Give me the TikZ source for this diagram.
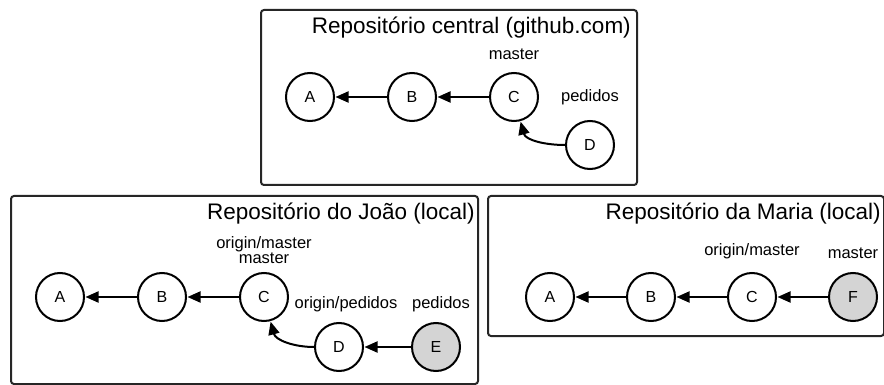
\documentclass[tikz,border=0pt]{standalone}
\usepackage{fontspec}
\setmainfont{Liberation Sans}
\usetikzlibrary{arrows.meta, positioning, calc}

\begin{document}
\begin{tikzpicture}[
    x=1pt, y=1pt,
    node distance=52pt,
    % Commit Style
    commit/.style={draw=black, circle, line width=2pt, minimum size=48pt, inner sep=0pt, font=\fontsize{16}{18}\selectfont},
    % Newest Local Commit Style
    newcommit/.style={commit, fill=black!17},
    % Repository Frame Style
    repo/.style={draw=black!85, rectangle, rounded corners=3pt, line width=2pt, anchor=north west, inner sep=0pt},
    % Repository Title Style
    repotitle/.style={anchor=north east, font=\fontsize{22.5}{25}\selectfont, inner sep=0pt},
    % Branch Name Style
    branchname/.style={font=\fontsize{16.5}{15}\selectfont, inner sep=0pt, align=center},
    % Parent Link Style
    parent/.style={-{Triangle[length=13pt, width=11pt]}, line width=2pt, shorten >=0.5pt}
]
\useasboundingbox (0,0) rectangle (884,-385);

% ================= Repositories =================
\node[repo, minimum width=376pt, minimum height=175pt] (central) at (260,-9) {};
\node[repo, minimum width=467pt, minimum height=188pt] (joao) at (10,-195) {};
\node[repo, minimum width=396pt, minimum height=140pt] (maria) at (487,-195) {};

\node[repotitle] (tCentral) at ($(central.north east)+(-7,-8)$) {Repositório central (github.com)};
\node[repotitle] (tJoao) at ($(joao.north east)+(-4,-8)$) {Repositório do João (local)};
\node[repotitle] (tMaria) at ($(maria.north east)+(-4,-8)$) {Repositório da Maria (local)};

% ================= Commits =================

% 1. Central
\node[commit] (cA) at (310,-97) {A};
\node[commit, right=of cA] (cB) {B};
\node[commit, right=of cB] (cC) {C};
\node[commit] (cD) at ($(cC)+(76,-48)$) {D};

% 2. Joao
\node[commit] (jA) at (60,-297) {A};
\node[commit, right=of jA] (jB) {B};
\node[commit, right=of jB] (jC) {C};
\node[commit] (jD) at ($(jC)+(75,-50)$) {D};
\node[newcommit, right=47pt of jD] (jE) {E};

% 3. Maria
\node[commit] (mA) at (550,-297) {A};
\node[commit, right=51pt of mA] (mB) {B};
\node[commit, right=51pt of mB] (mC) {C};
\node[newcommit, right=51pt of mC] (mF) {F};

% ================= Branches =================
\node[branchname, above=12pt of cC] (bMaster) {master};
\node[branchname, above=15pt of cD] (bPedidos) {pedidos};

\node[branchname, above=8pt of jC] (jMaster) {origin/master\\master};
\node[branchname, above=10pt of jD, xshift=7pt] (jOrigPed) {origin/pedidos};
\node[branchname, above=10pt of jE, xshift=5pt] (jPedidos) {pedidos};

\node[branchname, above=13pt of mC] (mOrigMaster) {origin/master};
\node[branchname, above=13pt of mF] (mMaster) {master};

% ================= Parents =================
\draw[parent] (cB) -- (cA);
\draw[parent] (cC) -- (cB);
\draw[parent] (cD.west) to[out=180, in=-75] (cC);

\draw[parent] (jB) -- (jA);
\draw[parent] (jC) -- (jB);
\draw[parent] (jD.west) to[out=180, in=-75] (jC);
\draw[parent] (jE) -- (jD);

\draw[parent] (mB) -- (mA);
\draw[parent] (mC) -- (mB);
\draw[parent] (mF) -- (mC);

\end{tikzpicture}
\end{document}
